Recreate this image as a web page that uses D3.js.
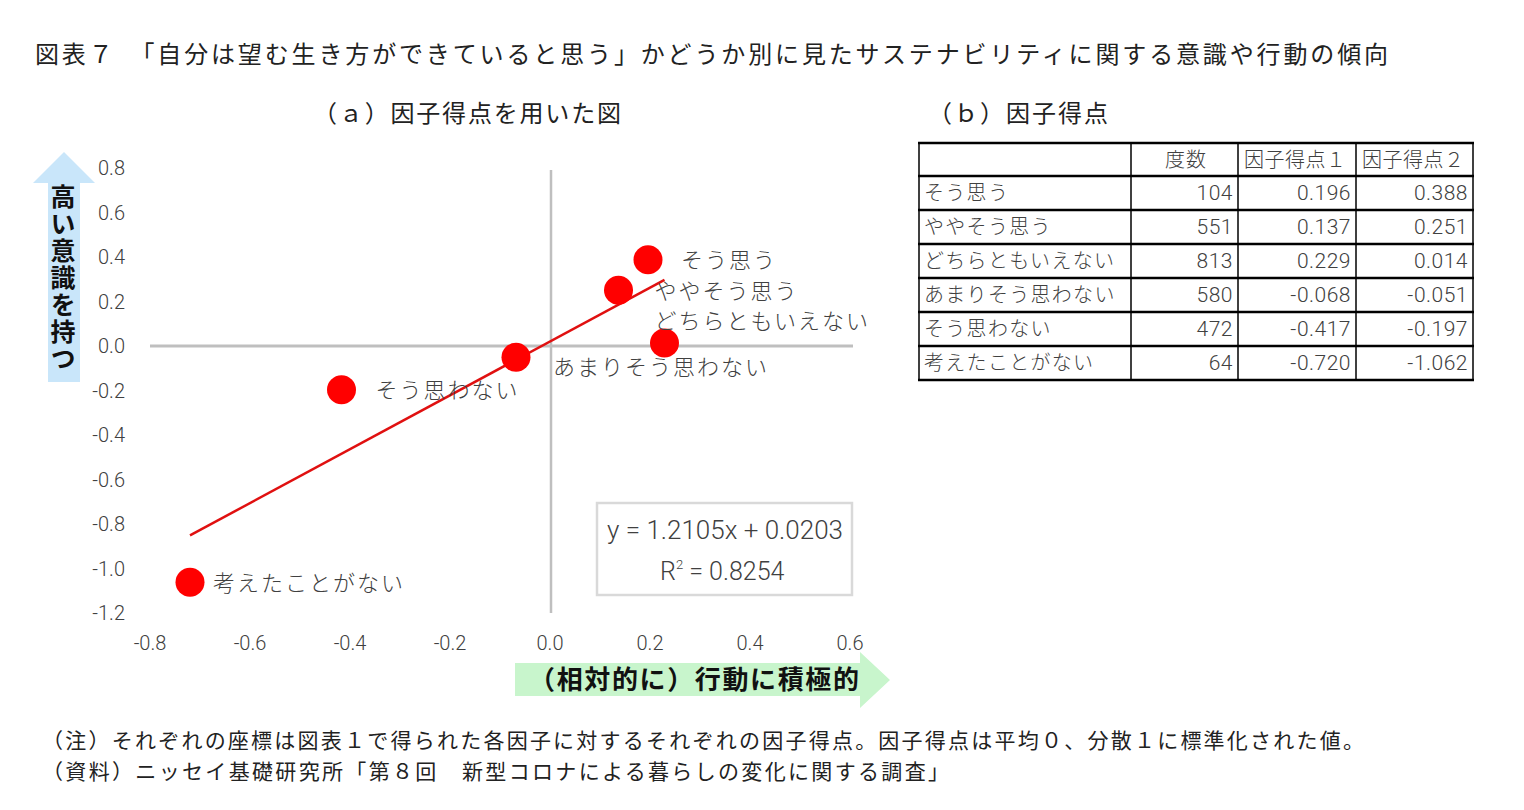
<!DOCTYPE html>
<html>
<head>
<meta charset="utf-8">
<script src="https://cdn.jsdelivr.net/npm/d3@7"></script>
<style>
  body { margin: 0; background: #fff; }
  svg { display: block; }
  text { font-family: "Noto Sans CJK JP", "Noto Sans", sans-serif; }
  .num { font-family: Roboto, "Noto Sans", sans-serif; }
</style>
</head>
<body>
<div class="chart"></div>
<script>
// data
const categories = ["そう思う", "ややそう思う", "どちらともいえない", "あまりそう思わない", "そう思わない", "考えたことがない"]
const freq = [104, 551, 813, 580, 472, 64]
const score1 = [0.196, 0.137, 0.229, -0.068, -0.417, -0.720]
const score2 = [0.388, 0.251, 0.014, -0.051, -0.197, -1.062]
const xTicks = [-0.8, -0.6, -0.4, -0.2, 0.0, 0.2, 0.4, 0.6]
const yTicks = [0.8, 0.6, 0.4, 0.2, 0.0, -0.2, -0.4, -0.6, -0.8, -1.0, -1.2]
const tableHead = ["", "度数", "因子得点１", "因子得点２"]
const slope = 1.2105
const intercept = 0.0203
const r2 = 0.8254

const title = "図表７　「自分は望む生き方ができていると思う」かどうか別に見たサステナビリティに関する意識や行動の傾向"
const note1 = "（注）それぞれの座標は図表１で得られた各因子に対するそれぞれの因子得点。因子得点は平均０、分散１に標準化された値。"
const note2 = "（資料）ニッセイ基礎研究所「第８回　新型コロナによる暮らしの変化に関する調査」"

// where each point label sits relative to its dot
const labelShift = [[33, 0], [36, 1], [-10, -22], [37, 10], [34, 0], [23, 1]]

const W = 1524, H = 810
const svg = d3.select('.chart').append('svg')
  .attr('width', W).attr('height', H)

const x = d3.scaleLinear().domain([-0.8, 0.6]).range([150, 850])
const y = d3.scaleLinear().domain([-1.2, 0.8]).range([613, 168])

// titles
svg.append('text').attr('x', 35).attr('y', 63)
  .attr('font-size', 24).attr('fill', '#222')
  .attr('textLength', 1353).attr('lengthAdjust', 'spacing')
  .text(title)

svg.append('text').attr('x', 313).attr('y', 122)
  .attr('font-size', 24).attr('fill', '#222')
  .attr('textLength', 308).attr('lengthAdjust', 'spacing')
  .text("（ａ）因子得点を用いた図")

svg.append('text').attr('x', 928).attr('y', 122)
  .attr('font-size', 24).attr('fill', '#222')
  .attr('textLength', 180).attr('lengthAdjust', 'spacing')
  .text("（ｂ）因子得点")

// y arrow
const yArr = svg.append('g')
yArr.append('polygon')
  .attr('points', '64,152 95,183 80,183 80,382 48,382 48,183 33,183')
  .attr('fill', '#c9e6fa')
yArr.append('text')
  .attr('x', 63).attr('y', 184)
  .style('writing-mode', 'vertical-rl')
  .style('text-orientation', 'upright')
  .style('letter-spacing', '2px')
  .attr('font-size', 25).attr('font-weight', 700).attr('fill', '#111')
  .text("高い意識を持つ")

// x arrow
const xArr = svg.append('g')
xArr.append('polygon')
  .attr('points', '515,663 860,663 860,652 890,680 860,708 860,696 515,696')
  .attr('fill', '#c8f5cc')
xArr.append('text').attr('x', 529).attr('y', 689)
  .attr('font-size', 26).attr('font-weight', 700).attr('fill', '#111')
  .attr('textLength', 330).attr('lengthAdjust', 'spacing')
  .text("（相対的に）行動に積極的")

// axes lines through zero
svg.append('line')
  .attr('x1', x(-0.8)).attr('x2', x(0.6) + 3)
  .attr('y1', y(0)).attr('y2', y(0))
  .attr('stroke', '#bfbfbf').attr('stroke-width', 3)
svg.append('line')
  .attr('x1', x(0) + 1).attr('x2', x(0) + 1)
  .attr('y1', y(0.8) + 2).attr('y2', y(-1.2))
  .attr('stroke', '#bfbfbf').attr('stroke-width', 2.5)

// tick labels
const fmt = d => d3.format('.1f')(d).replace('−', '-')
svg.selectAll('.ytick').data(yTicks).enter().append('text')
  .attr('class', 'num ytick')
  .attr('x', 125).attr('y', d => y(d) + 7)
  .attr('text-anchor', 'end')
  .attr('font-size', 20).attr('font-weight', 300).attr('fill', '#404040')
  .text(fmt)

svg.selectAll('.xtick').data(xTicks).enter().append('text')
  .attr('class', 'num xtick')
  .attr('x', d => x(d)).attr('y', 650)
  .attr('text-anchor', 'middle')
  .attr('font-size', 20).attr('font-weight', 300).attr('fill', '#404040')
  .text(fmt)

// trend line
const xs = d3.extent(score1)
svg.append('line')
  .attr('x1', x(xs[0])).attr('y1', y(slope * xs[0] + intercept))
  .attr('x2', x(xs[1])).attr('y2', y(slope * xs[1] + intercept))
  .attr('stroke', '#e01010').attr('stroke-width', 2.5)

// dots
const pts = categories.map((c, i) => ({ name: c, sx: score1[i], sy: score2[i], sh: labelShift[i] }))
svg.selectAll('.dot').data(pts).enter().append('circle')
  .attr('class', 'dot')
  .attr('cx', d => x(d.sx)).attr('cy', d => y(d.sy))
  .attr('r', 14.5).attr('fill', '#ff0000')

svg.selectAll('.lbl').data(pts).enter().append('text')
  .attr('class', 'lbl')
  .attr('x', d => x(d.sx) + d.sh[0]).attr('y', d => y(d.sy) + d.sh[1] + 8)
  .attr('font-size', 22).attr('font-weight', 300).attr('fill', '#404040')
  .style('letter-spacing', '2px')
  .text(d => d.name)

// equation box
svg.append('rect')
  .attr('x', 597).attr('y', 503).attr('width', 255).attr('height', 92)
  .attr('fill', '#fff').attr('stroke', '#d9d9d9').attr('stroke-width', 2.5)
svg.append('text').attr('class', 'num')
  .attr('x', 607).attr('y', 539)
  .attr('font-size', 25).attr('font-weight', 300).attr('fill', '#404040')
  .attr('textLength', 236).attr('lengthAdjust', 'spacingAndGlyphs')
  .text(`y = ${slope}x + ${intercept}`)
const rt = svg.append('text').attr('class', 'num')
  .attr('x', 660).attr('y', 580)
  .attr('font-size', 25).attr('font-weight', 300).attr('fill', '#404040')
rt.append('tspan').text('R')
rt.append('tspan').attr('font-size', 13).attr('dy', -11).text('2')
rt.append('tspan').attr('dy', 11).text(` = ${r2}`)

// table
const colX = [919, 1131, 1238, 1356, 1473]
const rowY = [143, 176, 210, 244, 278, 312, 346, 380]
const tbl = svg.append('g')

rowY.forEach(v => {
  tbl.append('line').attr('x1', colX[0] - 1).attr('x2', colX[4] + 1)
    .attr('y1', v).attr('y2', v)
    .attr('stroke', '#000').attr('stroke-width', 2.5)
})
colX.forEach(v => {
  tbl.append('line').attr('x1', v).attr('x2', v)
    .attr('y1', rowY[0]).attr('y2', rowY[rowY.length - 1])
    .attr('stroke', '#000').attr('stroke-width', 1.5)
})

tableHead.forEach((h, j) => {
  if (!h) return
  tbl.append('text')
    .attr('x', colX[j] + (j === 1 ? 34 : 6)).attr('y', (rowY[0] + rowY[1]) / 2 + 7)
    .attr('font-size', 20).attr('font-weight', 300).attr('fill', '#404040')
    .style('letter-spacing', j === 1 ? '1px' : '0.5px')
    .text(h)
})

const rows = categories.map((c, i) => [c, String(freq[i]), score1[i].toFixed(3), score2[i].toFixed(3)])
rows.forEach((r, i) => {
  const cy = (rowY[i + 1] + rowY[i + 2]) / 2 + 7
  r.forEach((v, j) => {
    tbl.append('text')
      .attr('class', j ? 'num' : null)
      .attr('x', j ? colX[j + 1] - 5 : colX[0] + 5)
      .attr('y', cy)
      .attr('text-anchor', j ? 'end' : 'start')
      .attr('font-size', j ? 21 : 20).attr('font-weight', 300).attr('fill', '#404040')
      .style('letter-spacing', j ? '0.5px' : '1.3px')
      .text(v)
  })
})

// notes
svg.append('text').attr('x', 42).attr('y', 748)
  .attr('font-size', 21).attr('fill', '#222')
  .attr('textLength', 1322).attr('lengthAdjust', 'spacing')
  .text(note1)
svg.append('text').attr('x', 42).attr('y', 779)
  .attr('font-size', 21).attr('fill', '#222')
  .attr('textLength', 907).attr('lengthAdjust', 'spacing')
  .text(note2)
</script>
</body>
</html>
